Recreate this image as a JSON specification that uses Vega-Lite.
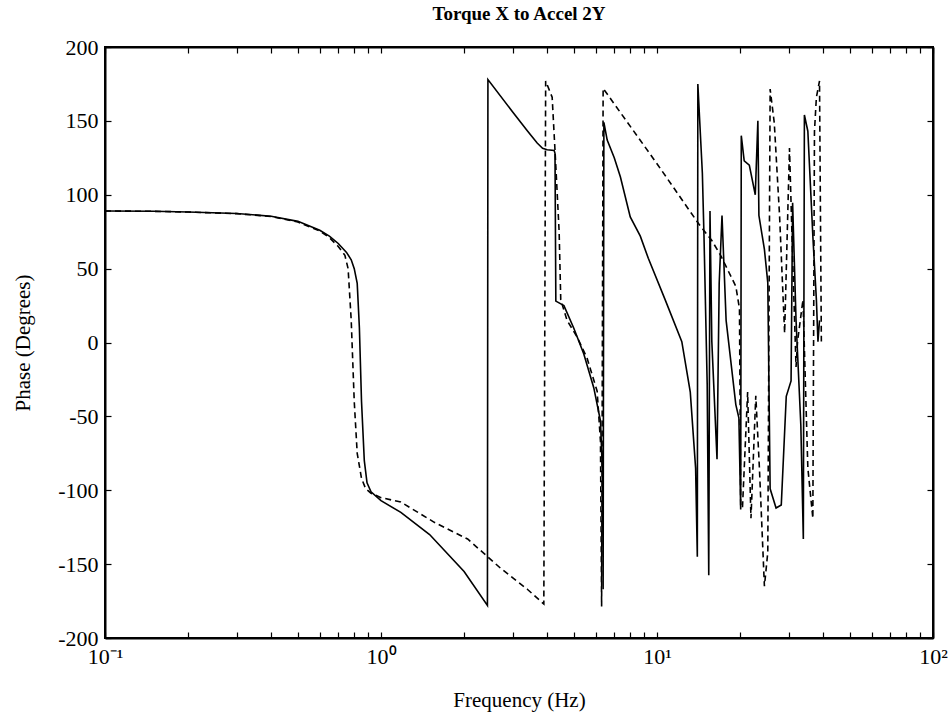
{
  "$schema": "https://vega.github.io/schema/vega-lite/v6.json",
  "width": 828,
  "height": 591,
  "autosize": {"type": "none"},
  "padding": {"left": 105, "top": 47, "right": 15, "bottom": 83},
  "background": "white",
  "title": {"text": "Torque X to Accel 2Y", "font": "Liberation Serif", "fontSize": 19, "fontWeight": "bold", "color": "black", "offset": 12, "anchor": "middle"},
  "config": {
    "view": {"stroke": "black", "strokeWidth": 2},
    "axis": {
      "labelFont": "Liberation Serif", "labelFontSize": 22, "labelColor": "black",
      "titleFont": "Liberation Serif", "titleFontSize": 21, "titleFontWeight": "normal", "titleColor": "black",
      "tickColor": "black", "domainColor": "black", "grid": false, "tickSize": -6, "tickWidth": 1.2, "domainWidth": 2,
      "labelOverlap": false, "labelFlush": false
    }
  },
  "datasets": {
    "curves": [
      {"s":"solid","i":1,"f":0.1,"p":89},{"s":"solid","i":2,"f":0.15,"p":88.8},{"s":"solid","i":3,"f":0.2,"p":88.3},{"s":"solid","i":4,"f":0.3,"p":87.3},{"s":"solid","i":5,"f":0.4,"p":85.5},{"s":"solid","i":6,"f":0.5,"p":82},{"s":"solid","i":7,"f":0.6,"p":76},{"s":"solid","i":8,"f":0.65,"p":72},{"s":"solid","i":9,"f":0.7,"p":67},{"s":"solid","i":10,"f":0.75,"p":61},{"s":"solid","i":11,"f":0.78,"p":56},{"s":"solid","i":12,"f":0.8,"p":50},{"s":"solid","i":13,"f":0.82,"p":40},{"s":"solid","i":14,"f":0.835,"p":10},{"s":"solid","i":15,"f":0.85,"p":-40},{"s":"solid","i":16,"f":0.87,"p":-80},{"s":"solid","i":17,"f":0.89,"p":-95},{"s":"solid","i":18,"f":0.92,"p":-101},{"s":"solid","i":19,"f":1.0,"p":-107},{"s":"solid","i":20,"f":1.18,"p":-115},{"s":"solid","i":21,"f":1.5,"p":-130},{"s":"solid","i":22,"f":2.0,"p":-155},{"s":"solid","i":23,"f":2.43,"p":-178},{"s":"solid","i":24,"f":2.44,"p":178},{"s":"solid","i":25,"f":3.0,"p":156},{"s":"solid","i":26,"f":3.4,"p":143},{"s":"solid","i":27,"f":3.68,"p":135},{"s":"solid","i":28,"f":3.85,"p":131.5},{"s":"solid","i":29,"f":4.0,"p":130.5},{"s":"solid","i":30,"f":4.24,"p":130},{"s":"solid","i":31,"f":4.27,"p":128},{"s":"solid","i":32,"f":4.3,"p":28},{"s":"solid","i":33,"f":4.6,"p":25},{"s":"solid","i":34,"f":5.0,"p":9.5},{"s":"solid","i":35,"f":5.43,"p":-7.8},{"s":"solid","i":36,"f":5.9,"p":-30.6},{"s":"solid","i":37,"f":6.24,"p":-53},{"s":"solid","i":38,"f":6.35,"p":-90},{"s":"solid","i":39,"f":6.38,"p":-167},{"s":"solid","i":40,"f":6.42,"p":149},{"s":"solid","i":41,"f":6.6,"p":137},{"s":"solid","i":42,"f":7.0,"p":125},{"s":"solid","i":43,"f":7.37,"p":112},{"s":"solid","i":44,"f":8.0,"p":85},{"s":"solid","i":45,"f":8.7,"p":72},{"s":"solid","i":46,"f":9.3,"p":57},{"s":"solid","i":47,"f":10.7,"p":29},{"s":"solid","i":48,"f":12.3,"p":0.6},{"s":"solid","i":49,"f":13.2,"p":-33.6},{"s":"solid","i":50,"f":13.8,"p":-85},{"s":"solid","i":51,"f":14.0,"p":-145},{"s":"solid","i":52,"f":14.06,"p":175},{"s":"solid","i":53,"f":14.6,"p":114.5},{"s":"solid","i":54,"f":14.8,"p":72},{"s":"solid","i":55,"f":15.2,"p":-28},{"s":"solid","i":56,"f":15.4,"p":-157.6},{"s":"solid","i":57,"f":15.56,"p":89},{"s":"solid","i":58,"f":15.8,"p":0.6},{"s":"solid","i":59,"f":16.5,"p":-79},{"s":"solid","i":60,"f":16.8,"p":40},{"s":"solid","i":61,"f":17.2,"p":86},{"s":"solid","i":62,"f":17.8,"p":15},{"s":"solid","i":63,"f":19.3,"p":-42},{"s":"solid","i":64,"f":19.8,"p":-51},{"s":"solid","i":65,"f":20.1,"p":-113},{"s":"solid","i":66,"f":20.2,"p":140},{"s":"solid","i":67,"f":20.7,"p":123},{"s":"solid","i":68,"f":21.6,"p":120},{"s":"solid","i":69,"f":22.7,"p":100},{"s":"solid","i":70,"f":23.2,"p":150},{"s":"solid","i":71,"f":23.4,"p":86},{"s":"solid","i":72,"f":24.5,"p":63},{"s":"solid","i":73,"f":25.2,"p":40.5},{"s":"solid","i":74,"f":25.7,"p":-99},{"s":"solid","i":75,"f":27.0,"p":-112},{"s":"solid","i":76,"f":28.2,"p":-110},{"s":"solid","i":77,"f":29.4,"p":-36.4},{"s":"solid","i":78,"f":30.6,"p":-26},{"s":"solid","i":79,"f":31.0,"p":94.6},{"s":"solid","i":80,"f":31.9,"p":15},{"s":"solid","i":81,"f":33.2,"p":-56},{"s":"solid","i":82,"f":33.9,"p":-133},{"s":"solid","i":83,"f":34.2,"p":154},{"s":"solid","i":84,"f":35.2,"p":143},{"s":"solid","i":85,"f":36.7,"p":72},{"s":"solid","i":86,"f":37.8,"p":29},{"s":"solid","i":87,"f":38.3,"p":0.6},{"s":"solid","i":88,"f":38.8,"p":15},
      {"s":"dashed","i":1,"f":0.1,"p":89},{"s":"dashed","i":2,"f":0.15,"p":88.8},{"s":"dashed","i":3,"f":0.2,"p":88.3},{"s":"dashed","i":4,"f":0.3,"p":87.2},{"s":"dashed","i":5,"f":0.4,"p":85.3},{"s":"dashed","i":6,"f":0.5,"p":81.5},{"s":"dashed","i":7,"f":0.6,"p":75.5},{"s":"dashed","i":8,"f":0.65,"p":71},{"s":"dashed","i":9,"f":0.7,"p":65},{"s":"dashed","i":10,"f":0.74,"p":59},{"s":"dashed","i":11,"f":0.76,"p":50},{"s":"dashed","i":12,"f":0.78,"p":15},{"s":"dashed","i":13,"f":0.8,"p":-40},{"s":"dashed","i":14,"f":0.82,"p":-75},{"s":"dashed","i":15,"f":0.85,"p":-92},{"s":"dashed","i":16,"f":0.88,"p":-99},{"s":"dashed","i":17,"f":0.92,"p":-102},{"s":"dashed","i":18,"f":1.0,"p":-105},{"s":"dashed","i":19,"f":1.18,"p":-108},{"s":"dashed","i":20,"f":1.56,"p":-121.7},{"s":"dashed","i":21,"f":2.06,"p":-133},{"s":"dashed","i":22,"f":2.72,"p":-153},{"s":"dashed","i":23,"f":3.39,"p":-167},{"s":"dashed","i":24,"f":3.89,"p":-177},{"s":"dashed","i":25,"f":3.95,"p":177},{"s":"dashed","i":26,"f":4.17,"p":166},{"s":"dashed","i":27,"f":4.29,"p":123},{"s":"dashed","i":28,"f":4.42,"p":75},{"s":"dashed","i":29,"f":4.48,"p":29},{"s":"dashed","i":30,"f":4.72,"p":15},{"s":"dashed","i":31,"f":5.14,"p":3.6},{"s":"dashed","i":32,"f":5.58,"p":-10.6},{"s":"dashed","i":33,"f":6.07,"p":-33},{"s":"dashed","i":34,"f":6.24,"p":-67},{"s":"dashed","i":35,"f":6.3,"p":-178.6},{"s":"dashed","i":36,"f":6.38,"p":172},{"s":"dashed","i":37,"f":10,"p":121},{"s":"dashed","i":38,"f":14.2,"p":80},{"s":"dashed","i":39,"f":15.8,"p":69},{"s":"dashed","i":40,"f":17.0,"p":59},{"s":"dashed","i":41,"f":19.3,"p":38},{"s":"dashed","i":42,"f":19.9,"p":23},{"s":"dashed","i":43,"f":20.1,"p":-110},{"s":"dashed","i":44,"f":20.4,"p":-112},{"s":"dashed","i":45,"f":21.3,"p":-33.6},{"s":"dashed","i":46,"f":21.9,"p":-119},{"s":"dashed","i":47,"f":22.8,"p":-36},{"s":"dashed","i":48,"f":23.5,"p":-85},{"s":"dashed","i":49,"f":24.5,"p":-165},{"s":"dashed","i":50,"f":25.2,"p":-142},{"s":"dashed","i":51,"f":25.7,"p":171.5},{"s":"dashed","i":52,"f":26.6,"p":148.7},{"s":"dashed","i":53,"f":27.8,"p":86},{"s":"dashed","i":54,"f":29.0,"p":6.3},{"s":"dashed","i":55,"f":30.2,"p":131.6},{"s":"dashed","i":56,"f":31.0,"p":57.6},{"s":"dashed","i":57,"f":31.9,"p":-16.5},{"s":"dashed","i":58,"f":32.3,"p":0.6},{"s":"dashed","i":59,"f":33.8,"p":29},{"s":"dashed","i":60,"f":35.2,"p":-85},{"s":"dashed","i":61,"f":36.7,"p":-119},{"s":"dashed","i":62,"f":37.2,"p":143},{"s":"dashed","i":63,"f":37.8,"p":166},{"s":"dashed","i":64,"f":38.8,"p":177},{"s":"dashed","i":65,"f":39.4,"p":0.6}
    ]
  },
  "layer": [
    {
      "data": {"name": "curves"},
      "transform": [{"filter": "datum.s == 'solid'"}],
      "mark": {"type": "line", "color": "black", "strokeWidth": 1.6, "clip": true},
      "encoding": {
        "x": {"field": "f", "type": "quantitative", "scale": {"type": "log", "domain": [0.1, 100], "nice": false},
          "axis": {"orient": "bottom", "title": "Frequency (Hz)", "titlePadding": 22,
            "values": [0.1,0.2,0.3,0.4,0.5,0.6,0.7,0.8,0.9,1,2,3,4,5,6,7,8,9,10,20,30,40,50,60,70,80,90,100],
            "labelExpr": "datum.value == 0.1 ? '10⁻¹' : datum.value == 1 ? '10⁰' : datum.value == 10 ? '10¹' : datum.value == 100 ? '10²' : ''",
            "labelPadding": 14}},
        "y": {"field": "p", "type": "quantitative", "scale": {"domain": [-200, 200], "nice": false},
          "axis": {"orient": "left", "title": "Phase (Degrees)", "values": [-200,-150,-100,-50,0,50,100,150,200],
            "labelExpr": "datum.value < 0 ? '-' + abs(datum.value) : '' + datum.value",
            "labelPadding": 13, "titlePadding": 24}},
        "order": {"field": "i", "type": "quantitative"}
      }
    },
    {
      "data": {"name": "curves"},
      "transform": [{"filter": "datum.s == 'dashed'"}],
      "mark": {"type": "line", "color": "black", "strokeWidth": 1.6, "strokeDash": [6, 4], "clip": true},
      "encoding": {
        "x": {"field": "f", "type": "quantitative",
          "axis": {"orient": "top", "title": null, "labels": false,
            "values": [0.1,0.2,0.3,0.4,0.5,0.6,0.7,0.8,0.9,1,2,3,4,5,6,7,8,9,10,20,30,40,50,60,70,80,90,100]}},
        "y": {"field": "p", "type": "quantitative",
          "axis": {"orient": "right", "title": null, "labels": false, "values": [-200,-150,-100,-50,0,50,100,150,200]}},
        "order": {"field": "i", "type": "quantitative"}
      }
    }
  ],
  "resolve": {"axis": {"x": "independent", "y": "independent"}}
}
